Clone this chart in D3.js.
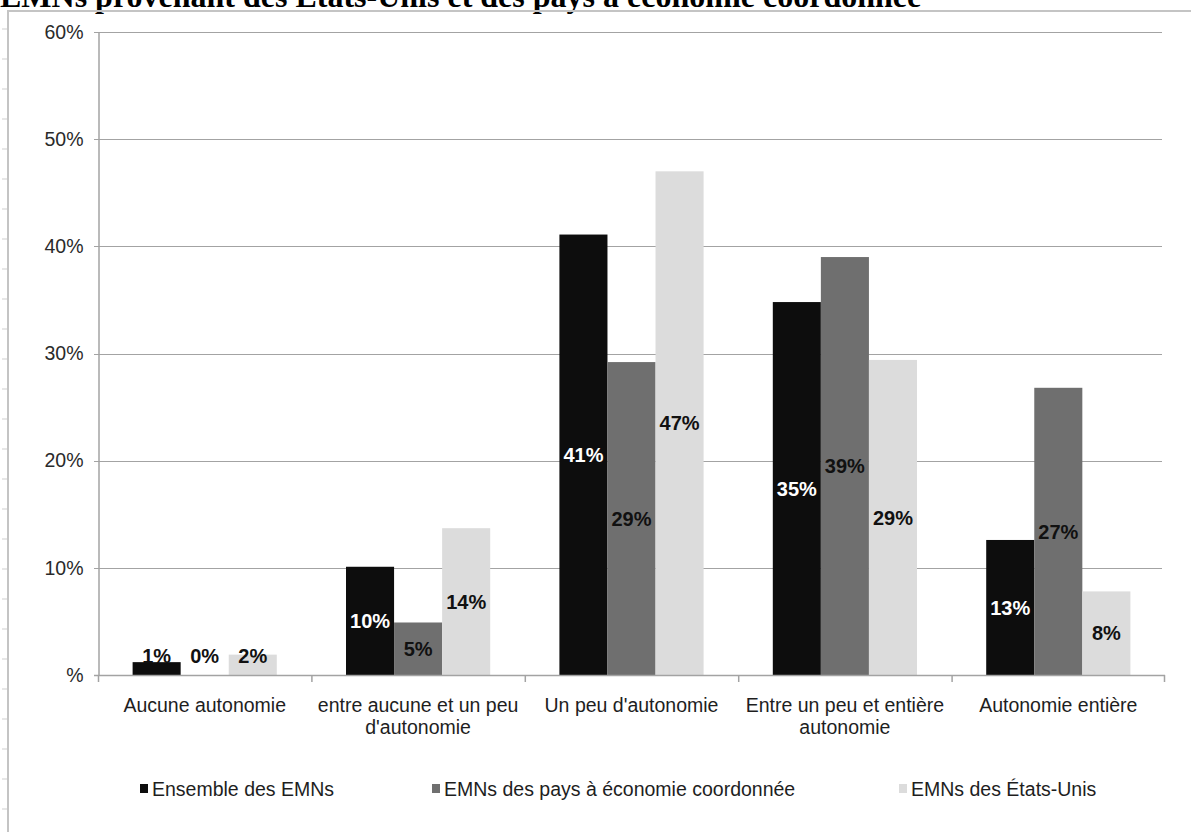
<!DOCTYPE html>
<html lang="fr">
<head>
<meta charset="utf-8">
<script src="https://cdn.jsdelivr.net/npm/d3@7"></script>
<style>
  html, body { margin: 0; padding: 0; background: #fff; }
  svg { display: block; }
</style>
</head>
<body>
<svg id="chart" width="1191" height="832"></svg>
<script>
// Degré d'autonomie des filiales, par origine des EMNs
const categories = [
  ["Aucune autonomie"],
  ["entre aucune et un peu", "d'autonomie"],
  ["Un peu d'autonomie"],
  ["Entre un peu et entière", "autonomie"],
  ["Autonomie entière"]
];
const seriesNames = [
  "Ensemble des EMNs",
  "EMNs des pays à économie coordonnée",
  "EMNs des États-Unis"
];
const ensemble    = [1.2, 10.1, 41.1, 34.8, 12.6];
const coordonnee  = [0.0, 4.9, 29.2, 39.0, 26.8];
const etatsUnis   = [1.9, 13.7, 47.0, 29.4, 7.8];
const yTicks      = [0, 10, 20, 30, 40, 50, 60];
const yTickLabels = ["%", "10%", "20%", "30%", "40%", "50%", "60%"];
const seriesColors = ["#0d0d0d", "#6f6f6f", "#dcdcdc"];
const titleText = "EMNs provenant des États-Unis et des pays à économie coordonnée";

const series = [ensemble, coordonnee, etatsUnis];
const svg = d3.select("#chart");
const font = "'Liberation Sans', Arial, sans-serif";
const fontSize = 19.5;

// Titre (coupé en haut de la page)
svg.append("text")
  .attr("x", 0).attr("y", 7)
  .attr("font-family", "'Liberation Serif', 'Times New Roman', serif")
  .attr("font-weight", "bold")
  .attr("font-size", 32)
  .attr("fill", "#000")
  .text(titleText);

// Cadre de l'objet graphique
const frame = svg.append("g");
frame.append("path")
  .attr("d", "M8,832 L8,11 L1191,11")
  .attr("fill", "none")
  .attr("stroke", "#c4c4c4")
  .attr("stroke-width", 2);
// Repères de règle à gauche
frame.selectAll("line.rule")
  .data(d3.range(29, 832, 30))
  .join("line")
  .attr("class", "rule")
  .attr("x1", 2).attr("x2", 7)
  .attr("y1", d => d).attr("y2", d => d)
  .attr("stroke", "#cfcfcf")
  .attr("stroke-width", 1);

const plot = { left: 98, right: 1165, top: 32, bottom: 675 };

const y = d3.scaleLinear().domain([0, 60]).range([plot.bottom, plot.top]);
const x0 = d3.scaleBand()
  .domain(d3.range(categories.length))
  .range([plot.left, plot.right])
  .padding(0);
const x1 = d3.scaleBand()
  .domain(d3.range(series.length))
  .range([0, x0.bandwidth()])
  .paddingInner(0)
  .paddingOuter(0.72);

// Quadrillage horizontal
const grid = svg.append("g");
grid.selectAll("line")
  .data(yTicks)
  .join("line")
  .attr("x1", plot.left - 4).attr("x2", plot.right - 3)
  .attr("y1", d => Math.round(y(d)) + 0.5)
  .attr("y2", d => Math.round(y(d)) + 0.5)
  .attr("stroke", "#a3a3a3")
  .attr("stroke-width", 1.2);

// Axe vertical
const yAxis = d3.axisLeft(y)
  .tickValues(yTicks)
  .tickFormat((d, i) => yTickLabels[i])
  .tickSize(0)
  .tickPadding(15);
const gy = svg.append("g")
  .attr("transform", `translate(${plot.left + 0.5},0)`)
  .call(yAxis);
gy.select(".domain").attr("stroke", "#a3a3a3").attr("stroke-width", 1.5);
gy.selectAll("text")
  .attr("font-family", font)
  .attr("font-size", fontSize)
  .attr("fill", "#2a2a2a");

// Barres
const groups = svg.append("g")
  .selectAll("g")
  .data(categories.map((c, i) => i))
  .join("g")
  .attr("transform", i => `translate(${x0(i)},0)`);

const cells = groups.selectAll("g.cell")
  .data(i => series.map((s, k) => ({ k, v: s[i] })))
  .join("g")
  .attr("class", "cell");

cells.append("rect")
  .attr("x", d => x1(d.k))
  .attr("width", x1.bandwidth())
  .attr("y", d => y(d.v))
  .attr("height", d => y(0) - y(d.v))
  .attr("fill", d => seriesColors[d.k]);

// Étiquettes de valeur, centrées dans la barre
const labelH = 19;
cells.append("text")
  .attr("x", d => x1(d.k) + x1.bandwidth() / 2)
  .attr("y", d => Math.min((y(d.v) + y(0)) / 2, y(0) - labelH))
  .attr("dy", "0.36em")
  .attr("text-anchor", "middle")
  .attr("font-family", font)
  .attr("font-weight", "bold")
  .attr("font-size", 20)
  .attr("fill", d => (d.k === 0 && y(0) - y(d.v) > labelH) ? "#ffffff" : "#111111")
  .text(d => Math.round(d.v) + "%");

// Axe horizontal
const xAxisG = svg.append("g");
xAxisG.append("line")
  .attr("x1", plot.left - 4).attr("x2", plot.right)
  .attr("y1", plot.bottom + 0.5).attr("y2", plot.bottom + 0.5)
  .attr("stroke", "#a3a3a3").attr("stroke-width", 1.5);
xAxisG.selectAll("line.tick")
  .data(d3.range(categories.length + 1))
  .join("line")
  .attr("class", "tick")
  .attr("x1", i => i < categories.length ? x0(i) + 0.5 : plot.right - 0.5)
  .attr("x2", i => i < categories.length ? x0(i) + 0.5 : plot.right - 0.5)
  .attr("y1", plot.bottom).attr("y2", plot.bottom + 7)
  .attr("stroke", "#a3a3a3").attr("stroke-width", 1.5);

const catLabels = xAxisG.selectAll("text.cat")
  .data(categories)
  .join("text")
  .attr("class", "cat")
  .attr("x", (d, i) => x0(i) + x0.bandwidth() / 2)
  .attr("y", plot.bottom + 37)
  .attr("text-anchor", "middle")
  .attr("font-family", font)
  .attr("font-size", fontSize)
  .attr("fill", "#1e1e1e");
catLabels.selectAll("tspan")
  .data(d => d)
  .join("tspan")
  .attr("x", function () { return d3.select(this.parentNode).attr("x"); })
  .attr("dy", (d, j) => j === 0 ? 0 : 22)
  .text(d => d);

// Légende
const legendX = [140, 432, 899];
const legend = svg.append("g")
  .selectAll("g")
  .data(seriesNames)
  .join("g")
  .attr("transform", (d, i) => `translate(${legendX[i]},796)`);
legend.append("rect")
  .attr("x", 0).attr("y", -12)
  .attr("width", 8).attr("height", 9)
  .attr("fill", (d, i) => seriesColors[i]);
legend.append("text")
  .attr("x", 12).attr("y", 0)
  .attr("font-family", font)
  .attr("font-size", fontSize)
  .attr("fill", "#1e1e1e")
  .text(d => d);
</script>
</body>
</html>
